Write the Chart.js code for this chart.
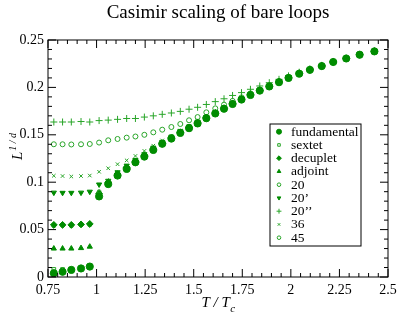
<!DOCTYPE html>
<html><head><meta charset="utf-8">
<style>html,body{margin:0;padding:0;background:#fff;overflow:hidden}#wrap{width:399px;height:319px}</style>
<script src="https://cdn.jsdelivr.net/npm/chart.js@4/dist/chart.umd.min.js"></script>
</head><body><div id="wrap"><canvas id="c" width="399" height="319"></canvas></div>
<script>
const titleText = 'Casimir scaling of bare loops';
const xTickValues = [0.75, 1, 1.25, 1.5, 1.75, 2, 2.25, 2.5];
const yTickValues = [0, 0.05, 0.1, 0.15, 0.2, 0.25];
const seriesNames = ['fundamental', 'sextet', 'decuplet', 'adjoint', '20', '20\u2019', '20\u2019\u2019', '36', '45'];

const temperatures = [0.78, 0.825, 0.87, 0.92, 0.965, 1.013, 1.06, 1.108, 1.155, 1.20, 1.246, 1.292, 1.338, 1.385, 1.431, 1.476, 1.52, 1.565, 1.611, 1.656, 1.70, 1.746, 1.792, 1.84, 1.889, 1.939, 1.988, 2.043, 2.098, 2.159, 2.218, 2.285, 2.354, 2.43];

const fundamental = [0.004, 0.0055, 0.0075, 0.009, 0.011, 0.085, 0.098, 0.107, 0.114, 0.121, 0.127, 0.134, 0.1405, 0.146, 0.152, 0.157, 0.162, 0.1675, 0.1725, 0.1775, 0.1825, 0.1872, 0.192, 0.1966, 0.201, 0.2055, 0.21, 0.2145, 0.2185, 0.2225, 0.2268, 0.2305, 0.2345, 0.238];
const sextet = [0.008, 0.008, 0.008, 0.0095, 0.012, 0.087, 0.099, 0.108, 0.115, 0.1215, 0.1275, 0.1345, 0.141, 0.1465, 0.1525, 0.1575, 0.1625, 0.168, 0.173, 0.178, 0.183, 0.1875, 0.1922, 0.1968, 0.2012, 0.2057, 0.2102, 0.2146, 0.2186, 0.2226, 0.2269, 0.2306, 0.2346, 0.2381];
const decuplet = [0.055, 0.055, 0.055, 0.0555, 0.056, 0.088, 0.1, 0.1085, 0.1155, 0.122, 0.128, 0.135, 0.141, 0.1468, 0.1527, 0.1577, 0.1627, 0.168, 0.173, 0.178, 0.183, 0.1876, 0.1923, 0.1968, 0.2012, 0.2057, 0.2101, 0.2146, 0.2186, 0.2226, 0.2268, 0.2306, 0.2346, 0.2381];
const adjoint = [0.030, 0.030, 0.030, 0.0305, 0.032, 0.086, 0.0985, 0.1075, 0.1145, 0.1212, 0.1272, 0.1342, 0.1407, 0.1462, 0.1522, 0.1572, 0.1622, 0.1677, 0.1727, 0.1777, 0.1827, 0.1873, 0.1921, 0.1967, 0.2011, 0.2056, 0.2101, 0.2146, 0.2186, 0.2226, 0.2268, 0.2306, 0.2346, 0.2381];
const rep20 = [0.054, 0.0545, 0.054, 0.055, 0.055, 0.09, 0.101, 0.109, 0.116, 0.1225, 0.1285, 0.1355, 0.1415, 0.147, 0.153, 0.158, 0.163, 0.1683, 0.1732, 0.1782, 0.1831, 0.1877, 0.1924, 0.1969, 0.2013, 0.2058, 0.2102, 0.2147, 0.2187, 0.2227, 0.2269, 0.2306, 0.2346, 0.2381];
const rep20p = [0.089, 0.0888, 0.0888, 0.089, 0.090, 0.0976, 0.1015, 0.1105, 0.1175, 0.1235, 0.1295, 0.1365, 0.1425, 0.148, 0.1538, 0.1588, 0.1637, 0.1688, 0.1737, 0.1786, 0.1835, 0.188, 0.1927, 0.1971, 0.2015, 0.2059, 0.2103, 0.2148, 0.2188, 0.2227, 0.2269, 0.2307, 0.2347, 0.2381];
const rep20pp = [0.1635, 0.1635, 0.1635, 0.164, 0.1635, 0.165, 0.1655, 0.1663, 0.1672, 0.1672, 0.1687, 0.170, 0.1716, 0.173, 0.1747, 0.177, 0.179, 0.182, 0.185, 0.188, 0.1915, 0.1945, 0.198, 0.2015, 0.205, 0.2085, 0.2122, 0.216, 0.2195, 0.2232, 0.2272, 0.2308, 0.2347, 0.2382];
const rep36 = [0.1068, 0.1065, 0.106, 0.1065, 0.107, 0.111, 0.1147, 0.119, 0.123, 0.1277, 0.133, 0.1385, 0.144, 0.149, 0.1545, 0.1595, 0.1643, 0.1693, 0.1741, 0.179, 0.1838, 0.1883, 0.1929, 0.1973, 0.2016, 0.206, 0.2104, 0.2148, 0.2188, 0.2228, 0.227, 0.2307, 0.2347, 0.2381];
const rep45 = [0.14, 0.14, 0.1398, 0.14, 0.1403, 0.1418, 0.1442, 0.1456, 0.147, 0.1482, 0.15, 0.1526, 0.1554, 0.1582, 0.1614, 0.1653, 0.1687, 0.1737, 0.1779, 0.1818, 0.1858, 0.1895, 0.1937, 0.1978, 0.202, 0.2063, 0.2106, 0.2149, 0.2189, 0.2228, 0.227, 0.2307, 0.2347, 0.2382];

const seriesValues = [fundamental, sextet, decuplet, adjoint, rep20, rep20p, rep20pp, rep36, rep45];

const DARK = 'rgb(0,140,0)';
const LIGHT = 'rgb(40,165,40)';
const styles = [
  {pointStyle: 'circle', radius: 3.6, fill: true},
  {pointStyle: 'rect', radius: 2.6, fill: false},
  {pointStyle: 'rectRot', radius: 3.4, fill: true},
  {pointStyle: 'triangle', radius: 3, fill: true},
  {pointStyle: 'circle', radius: 2, fill: false},
  {pointStyle: 'triangle', radius: 3, fill: true, rotation: 180},
  {pointStyle: 'cross', radius: 3.5, fill: false},
  {pointStyle: 'crossRot', radius: 2.5, fill: false},
  {pointStyle: 'circle', radius: 2.5, fill: false}
];

const datasets = seriesNames.map((name, k) => ({
  label: name,
  data: temperatures.map((t, i) => ({x: t, y: seriesValues[k][i]})),
  showLine: false,
  pointStyle: styles[k].pointStyle,
  pointRadius: styles[k].radius,
  pointRotation: styles[k].rotation || 0,
  pointBorderWidth: 1,
  borderColor: styles[k].fill ? DARK : LIGHT,
  backgroundColor: styles[k].fill ? DARK : 'rgba(255,255,255,0)'
}));

const SERIF = '"Liberation Serif", "Times New Roman", serif';

function fmt(v) { return String(+v.toFixed(4)); }

const decorPlugin = {
  id: 'decor',
  afterDraw(chart) {
    const ctx = chart.ctx;
    const a = chart.chartArea;
    const xs = chart.scales.x, ys = chart.scales.y;
    ctx.save();
    ctx.strokeStyle = '#000';
    ctx.lineWidth = 1;
    ctx.strokeRect(a.left, a.top, a.right - a.left, a.bottom - a.top);
    ctx.beginPath();
    for (let i = 0; i <= 35; i++) {
      const v = 0.75 + i * 0.05;
      const px = xs.getPixelForValue(v);
      const len = (i % 5 === 0) ? 8 : 4;
      ctx.moveTo(px, a.bottom); ctx.lineTo(px, a.bottom - len);
      ctx.moveTo(px, a.top); ctx.lineTo(px, a.top + len);
    }
    for (let i = 0; i <= 25; i++) {
      const v = i * 0.01;
      const py = ys.getPixelForValue(v);
      const len = (i % 5 === 0) ? 8 : 4;
      ctx.moveTo(a.left, py); ctx.lineTo(a.left + len, py);
      ctx.moveTo(a.right, py); ctx.lineTo(a.right - len, py);
    }
    ctx.stroke();

    ctx.fillStyle = '#000';
    ctx.font = '19px ' + SERIF;
    ctx.textAlign = 'center';
    ctx.textBaseline = 'alphabetic';
    ctx.fillText(titleText, (a.left + a.right) / 2, 18);

    ctx.textAlign = 'left';
    ctx.font = 'italic 15px ' + SERIF;
    const main = 'T / T';
    const wMain = ctx.measureText(main).width;
    ctx.font = 'italic 11px ' + SERIF;
    const wSub = ctx.measureText('c').width;
    const x0 = (a.left + a.right) / 2 - (wMain + wSub) / 2;
    ctx.font = 'italic 15px ' + SERIF;
    ctx.fillText(main, x0, 307);
    ctx.font = 'italic 11px ' + SERIF;
    ctx.fillText('c', x0 + wMain + 0.5, 312);

    ctx.save();
    ctx.translate(22, 160);
    ctx.rotate(-Math.PI / 2);
    ctx.font = 'italic 15px ' + SERIF;
    ctx.fillText('L', 0, 0);
    const wL = ctx.measureText('L').width;
    ctx.font = 'italic 10px ' + SERIF;
    ctx.fillText('1 / d', wL + 1, -6);
    ctx.restore();

    const lx = 270, ly = 124, lw = 91, lh = 122;
    ctx.fillStyle = '#fff';
    ctx.fillRect(lx, ly, lw, lh);
    ctx.strokeStyle = '#000';
    ctx.strokeRect(lx, ly, lw, lh);
    ctx.font = '13.5px ' + SERIF;
    ctx.textBaseline = 'middle';
    chart.data.datasets.forEach((ds, i) => {
      const y = 131.7 + i * 13.25;
      ctx.strokeStyle = ds.borderColor;
      ctx.fillStyle = ds.backgroundColor;
      ctx.lineWidth = 1;
      Chart.helpers.drawPoint(ctx, {
        pointStyle: ds.pointStyle,
        rotation: ds.pointRotation,
        radius: Math.max(1.8, Math.min(2.6, ds.pointRadius * 0.7)),
        borderWidth: 1
      }, 279, y);
      ctx.fillStyle = '#000';
      ctx.fillText(ds.label, 291, y + 0.5);
    });
    ctx.restore();
  }
};

new Chart(document.getElementById('c'), {
  type: 'scatter',
  data: {datasets},
  options: {
    responsive: false,
    animation: false,
    devicePixelRatio: 1,
    layout: {padding: {top: 40, right: 11, left: 0, bottom: 0}},
    plugins: {legend: {display: false}, title: {display: false}, tooltip: {enabled: false}},
    scales: {
      x: {
        type: 'linear', min: 0.75, max: 2.5,
        grid: {display: false, drawTicks: false},
        border: {display: false},
        afterBuildTicks: s => { s.ticks = xTickValues.map(v => ({value: v})); },
        afterFit: s => { s.height = 42; s.paddingLeft = 0; s.paddingRight = 0; },
        ticks: {color: '#000', padding: 5, maxRotation: 0, autoSkip: false, font: {family: SERIF, size: 14}, callback: v => fmt(v)}
      },
      y: {
        type: 'linear', min: 0, max: 0.25,
        grid: {display: false, drawTicks: false},
        border: {display: false},
        afterBuildTicks: s => { s.ticks = yTickValues.map(v => ({value: v})); },
        afterFit: s => { s.width = 48; s.paddingTop = 0; s.paddingBottom = 0; },
        ticks: {color: '#000', padding: 4, autoSkip: false, font: {family: SERIF, size: 14}, callback: v => fmt(v)}
      }
    }
  },
  plugins: [decorPlugin]
});
</script>
</body></html>
